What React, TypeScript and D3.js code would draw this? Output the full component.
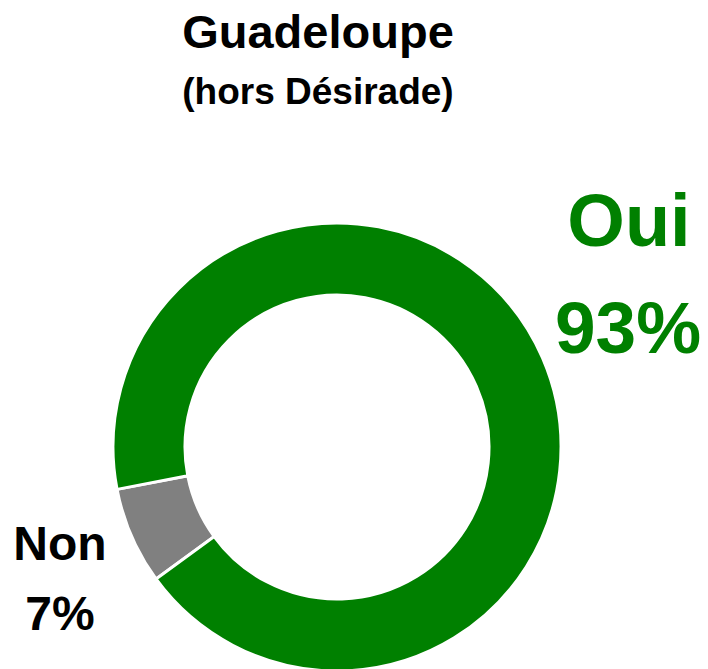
import React from "react";
import * as d3 from "d3";

const categories = ["Non", "Oui"];
const values = [7, 93];
const labels = ["7%", "93%"];
const colors = ["#808080", "#008000"];

const W = 708;
const H = 669;
const cx = 337;
const cy = 447;
const outerR = 224;
const innerR = 152;
const startDeg = 233.9;

export default function App() {
  const pie = d3
    .pie<number>()
    .sort(null)
    .value((d) => d)
    .startAngle((startDeg * Math.PI) / 180)
    .endAngle((startDeg * Math.PI) / 180 + 2 * Math.PI);
  const arcs = pie(values);
  const arc = d3.arc<d3.PieArcDatum<number>>().innerRadius(innerR).outerRadius(outerR);
  const font = "'Liberation Sans', Arial, sans-serif";
  return (
    <svg
      width={W}
      height={H}
      style={{ position: "absolute", left: 0, top: 0, background: "#fff" }}
      fontFamily={font}
      fontWeight="bold"
    >
      <text x={318} y={48} textAnchor="middle" fontSize={47} fill="#000">
        Guadeloupe
      </text>
      <text x={318} y={104} textAnchor="middle" fontSize={37} fill="#000">
        (hors Désirade)
      </text>
      <g transform={`translate(${cx},${cy})`}>
        {arcs.map((a, i) => (
          <path key={categories[i]} d={arc(a) || ""} fill={colors[i]} stroke="#fff" strokeWidth={3} />
        ))}
      </g>
      <text x={629} y={246} textAnchor="middle" fontSize={74} fill={colors[1]}>
        {categories[1]}
      </text>
      <text x={628} y={353} textAnchor="middle" fontSize={73} fill={colors[1]}>
        {labels[1]}
      </text>
      <text x={60} y={560} textAnchor="middle" fontSize={48} fill="#000">
        {categories[0]}
      </text>
      <text x={60} y={630} textAnchor="middle" fontSize={48} fill="#000">
        {labels[0]}
      </text>
    </svg>
  );
}
